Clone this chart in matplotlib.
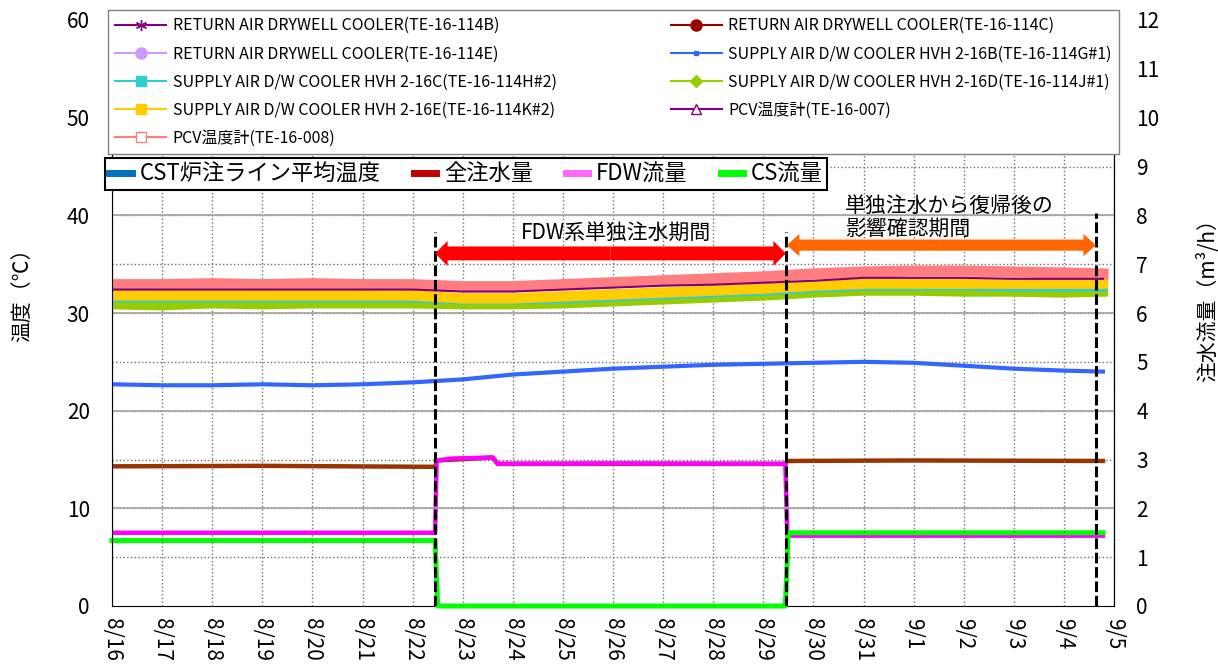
import numpy as np
import matplotlib.pyplot as plt
from matplotlib.lines import Line2D

plt.rcParams['font.family'] = ['Noto Sans CJK JP', 'DejaVu Sans']

# x axis: days counted from 8/16
day_labels = ['8/16', '8/17', '8/18', '8/19', '8/20', '8/21', '8/22', '8/23', '8/24', '8/25',
              '8/26', '8/27', '8/28', '8/29', '8/30', '8/31', '9/1', '9/2', '9/3', '9/4', '9/5']

# temperatures (left axis, deg C), one value per day
t_temp = [0, 1, 2, 3, 4, 5, 6, 7, 8, 9, 10, 11, 12, 13, 14, 15, 16, 17, 18, 19, 19.78]
pcv_008 = [32.9, 32.9, 33.0, 32.9, 33.0, 32.9, 32.9, 32.7, 32.7, 32.9, 33.1, 33.3, 33.5, 33.7,
           34.0, 34.2, 34.3, 34.3, 34.2, 34.1, 34.0]
pcv_007 = [32.4, 32.4, 32.4, 32.4, 32.4, 32.4, 32.4, 32.2, 32.2, 32.4, 32.6, 32.8, 32.9, 33.1,
           33.3, 33.6, 33.6, 33.6, 33.5, 33.5, 33.5]
ret_b = [32.7, 32.7, 32.8, 32.7, 32.8, 32.7, 32.7, 32.5, 32.5, 32.7, 32.9, 33.1, 33.3, 33.5,
         33.8, 34.0, 34.1, 34.1, 34.0, 33.9, 33.8]
ret_c = [32.6, 32.6, 32.6, 32.6, 32.7, 32.6, 32.6, 32.4, 32.4, 32.6, 32.8, 33.0, 33.2, 33.4,
         33.7, 33.9, 34.0, 34.0, 33.9, 33.8, 33.7]
ret_e = [33.1, 33.0, 33.1, 33.1, 33.1, 33.0, 33.1, 32.9, 32.8, 33.0, 33.2, 33.4, 33.6, 33.8,
         34.1, 34.3, 34.4, 34.4, 34.3, 34.2, 34.1]
sup_k = [31.8, 31.8, 31.8, 31.8, 31.8, 31.8, 31.8, 31.5, 31.5, 31.7, 31.9, 32.1, 32.3, 32.5,
         32.8, 33.0, 33.0, 33.0, 33.0, 33.0, 33.0]
sup_h = [31.5, 31.5, 31.5, 31.5, 31.5, 31.5, 31.5, 31.3, 31.3, 31.4, 31.6, 31.8, 32.0, 32.2,
         32.5, 32.7, 32.7, 32.7, 32.6, 32.6, 32.6]
sup_j = [30.9, 30.8, 31.0, 30.9, 31.0, 31.0, 31.0, 30.9, 30.9, 31.0, 31.2, 31.4, 31.6, 31.8,
         32.1, 32.3, 32.3, 32.2, 32.2, 32.1, 32.2]
sup_g = [22.7, 22.6, 22.6, 22.7, 22.6, 22.7, 22.9, 23.2, 23.7, 24.0, 24.3, 24.5, 24.7, 24.8,
         24.9, 25.0, 24.9, 24.6, 24.3, 24.1, 24.0]

# flows (right axis, m3/h)
t_fdw = [0, 6.45, 6.48, 6.8, 7.6, 7.7, 10.0, 13.44, 13.48, 19.78]
fdw = [1.50, 1.50, 2.98, 3.02, 3.04, 2.91, 2.92, 2.91, 1.44, 1.44]
t_total = [0, 3.0, 6.45, 6.48, 7.6, 7.7, 13.44, 13.48, 16.0, 19.78]
total = [2.86, 2.87, 2.85, 2.98, 3.04, 2.91, 2.91, 2.97, 2.98, 2.97]
t_cs = [0, 6.45, 6.50, 13.44, 13.50, 19.78]
cs = [1.34, 1.34, 0.0, 0.0, 1.50, 1.50]

# period boundaries
t_start, t_back, t_end = 6.45, 13.45, 19.64

fig = plt.figure(figsize=(12.18, 6.66), dpi=100)
ax1 = fig.add_axes([112 / 1218, 60 / 666, 1002 / 1218, 586 / 666])
ax2 = ax1.twinx()
ax1.set_zorder(ax2.get_zorder() + 1)
ax1.patch.set_visible(False)

# flow lines
ax2.plot(t_total, total, color='#993300', lw=3.2)
ax2.plot(t_cs, cs, color='#00FF00', lw=3.6, clip_on=False, zorder=3)
ax2.plot(t_fdw, fdw, color='#FF00FF', lw=3.2)

# temperature lines
ax1.plot(t_temp, sup_g, color='#3366FF', lw=3)
ax1.plot(t_temp, sup_j, color='#99CC00', lw=7.5)
ax1.plot(t_temp, sup_h, color='#33CCCC', lw=6)
ax1.plot(t_temp, sup_k, color='#FFCC00', lw=7.5)
ax1.plot(t_temp, ret_e, color='#CC99FF', lw=3)
ax1.plot(t_temp, ret_c, color='#990000', lw=2)
ax1.plot(t_temp, ret_b, color='#800080', lw=2)
ax1.plot(t_temp, pcv_008, color='#FF7C80', lw=8)
ax1.plot(t_temp, pcv_007, color='#7F007F', lw=1.5)

# period markers
ax1.plot([t_start, t_start], [0, 38.3], color='black', lw=2.2, ls=(0, (3.5, 1.2)))
ax1.plot([t_back, t_back], [0, 38.3], color='black', lw=2.2, ls=(0, (3.5, 1.2)))
ax1.plot([t_end, t_end], [0, 40.2], color='black', lw=2.2, ls=(0, (3.5, 1.2)))

mid1 = (t_start + t_back) / 2
for x_tip in [t_start, t_back]:
    ax1.annotate('', xy=(x_tip, 36.1), xytext=(mid1, 36.1),
                 arrowprops=dict(arrowstyle='simple,head_length=0.9,head_width=1.8,tail_width=1.0',
                                 fc='#FF0000', ec='none', shrinkA=0, shrinkB=0, mutation_scale=10))
mid2 = (t_back + t_end) / 2
for x_tip in [t_back + 0.02, t_end]:
    ax1.annotate('', xy=(x_tip, 36.95), xytext=(mid2, 36.95),
                 arrowprops=dict(arrowstyle='simple,head_length=0.9,head_width=1.6,tail_width=0.8',
                                 fc='#FF6600', ec='none', shrinkA=0, shrinkB=0, mutation_scale=10))

ax1.text(mid1 + 0.1, 38.2, 'FDW系単独注水期間', ha='center', va='center', fontsize=15)
ax1.text(14.63, 39.75, '単独注水から復帰後の\n影響確認期間', ha='left', va='center',
         fontsize=15, linespacing=1.05)

# axes
ax1.set_xlim(0, 20)
ax1.set_ylim(0, 60)
ax2.set_ylim(0, 12)
ax1.set_xticks(range(len(day_labels)))
ax1.set_xticklabels(day_labels, rotation=270, fontsize=15)
ax1.set_yticks(range(0, 61, 10))
ax2.set_yticks(range(0, 13))
ax1.tick_params(axis='y', length=0, pad=16, labelsize=15)
ax2.tick_params(axis='y', length=0, pad=16, labelsize=15)
ax1.tick_params(axis='x', length=0, pad=9)

ax1.grid(axis='x', color='#707070', ls=':', lw=1.0)
ax1.grid(axis='y', color='#A6A6A6', ls='-', lw=1.3)
ax2.grid(axis='y', color='#707070', ls=':', lw=1.0)
ax1.set_axisbelow(True)
ax1.get_ygridlines()[0].set_visible(False)
ax2.get_ygridlines()[0].set_visible(False)
# bottom border drawn by the lower axes so the CS line at 0 stays visible
ax1.spines['bottom'].set_visible(False)
for sp in ax2.spines.values():
    sp.set_color('black')
ax2.spines['left'].set_color('#808080')

fig.text(22 / 1218, 1 - 290 / 666, '温度（℃）', rotation=90, ha='center', va='center', fontsize=15)
fig.text(1208 / 1218, 1 - 295 / 666, '注水流量（m³/h）', rotation=90, ha='center', va='center',
         fontsize=15)

# legends
handles1 = [
    Line2D([], [], color='#800080', lw=1.5, marker=(6, 2, 0), ms=8),
    Line2D([], [], color='#CC99FF', lw=1.5, marker='o', ms=8),
    Line2D([], [], color='#33CCCC', lw=1.5, marker='s', ms=7),
    Line2D([], [], color='#FFCC00', lw=1.5, marker='s', ms=7),
    Line2D([], [], color='#FF7C80', lw=1.5, marker='s', ms=7, mfc='white'),
    Line2D([], [], color='#990000', lw=1.5, marker='o', ms=8),
    Line2D([], [], color='#3366FF', lw=1.5, marker='s', ms=2.5),
    Line2D([], [], color='#99CC00', lw=1.5, marker='D', ms=6),
    Line2D([], [], color='#7F007F', lw=1.5, marker='^', ms=7, mfc='white'),
]
labels1 = [
    'RETURN AIR DRYWELL COOLER(TE-16-114B)',
    'RETURN AIR DRYWELL COOLER(TE-16-114E)',
    'SUPPLY AIR D/W COOLER HVH 2-16C(TE-16-114H#2)',
    'SUPPLY AIR D/W COOLER HVH 2-16E(TE-16-114K#2)',
    'PCV温度計(TE-16-008)',
    'RETURN AIR DRYWELL COOLER(TE-16-114C)',
    'SUPPLY AIR D/W COOLER HVH 2-16B(TE-16-114G#1)',
    'SUPPLY AIR D/W COOLER HVH 2-16D(TE-16-114J#1)',
    'PCV温度計(TE-16-007)',
]
leg1 = fig.legend(handles1, labels1, ncol=2, loc='upper left',
                  bbox_to_anchor=(108 / 1218, 1 - 155 / 666, 1011 / 1218, 145 / 666), mode='expand',
                  fontsize=11.5, fancybox=False, edgecolor='#808080', framealpha=1,
                  borderpad=0.45, labelspacing=0.7, handlelength=3.2, handletextpad=0.4,
                  borderaxespad=0)

handles2 = [Line2D([], [], color=c, lw=5) for c in ['#0070C0', '#C00000', '#FF66FF', '#00FF00']]
labels2 = ['CST炉注ライン平均温度', '全注水量', 'FDW流量', 'CS流量']
leg2 = fig.legend(handles2, labels2, ncol=4, loc='upper left', bbox_to_anchor=(105 / 1218, 1 - 158 / 666),
                  fontsize=16, fancybox=False, edgecolor='black', framealpha=1, handlelength=1.0,
                  handletextpad=0.35, columnspacing=1.5, borderpad=0.2, borderaxespad=0)
leg2.get_frame().set_linewidth(1.5)

plt.savefig('out.png', dpi=100)
